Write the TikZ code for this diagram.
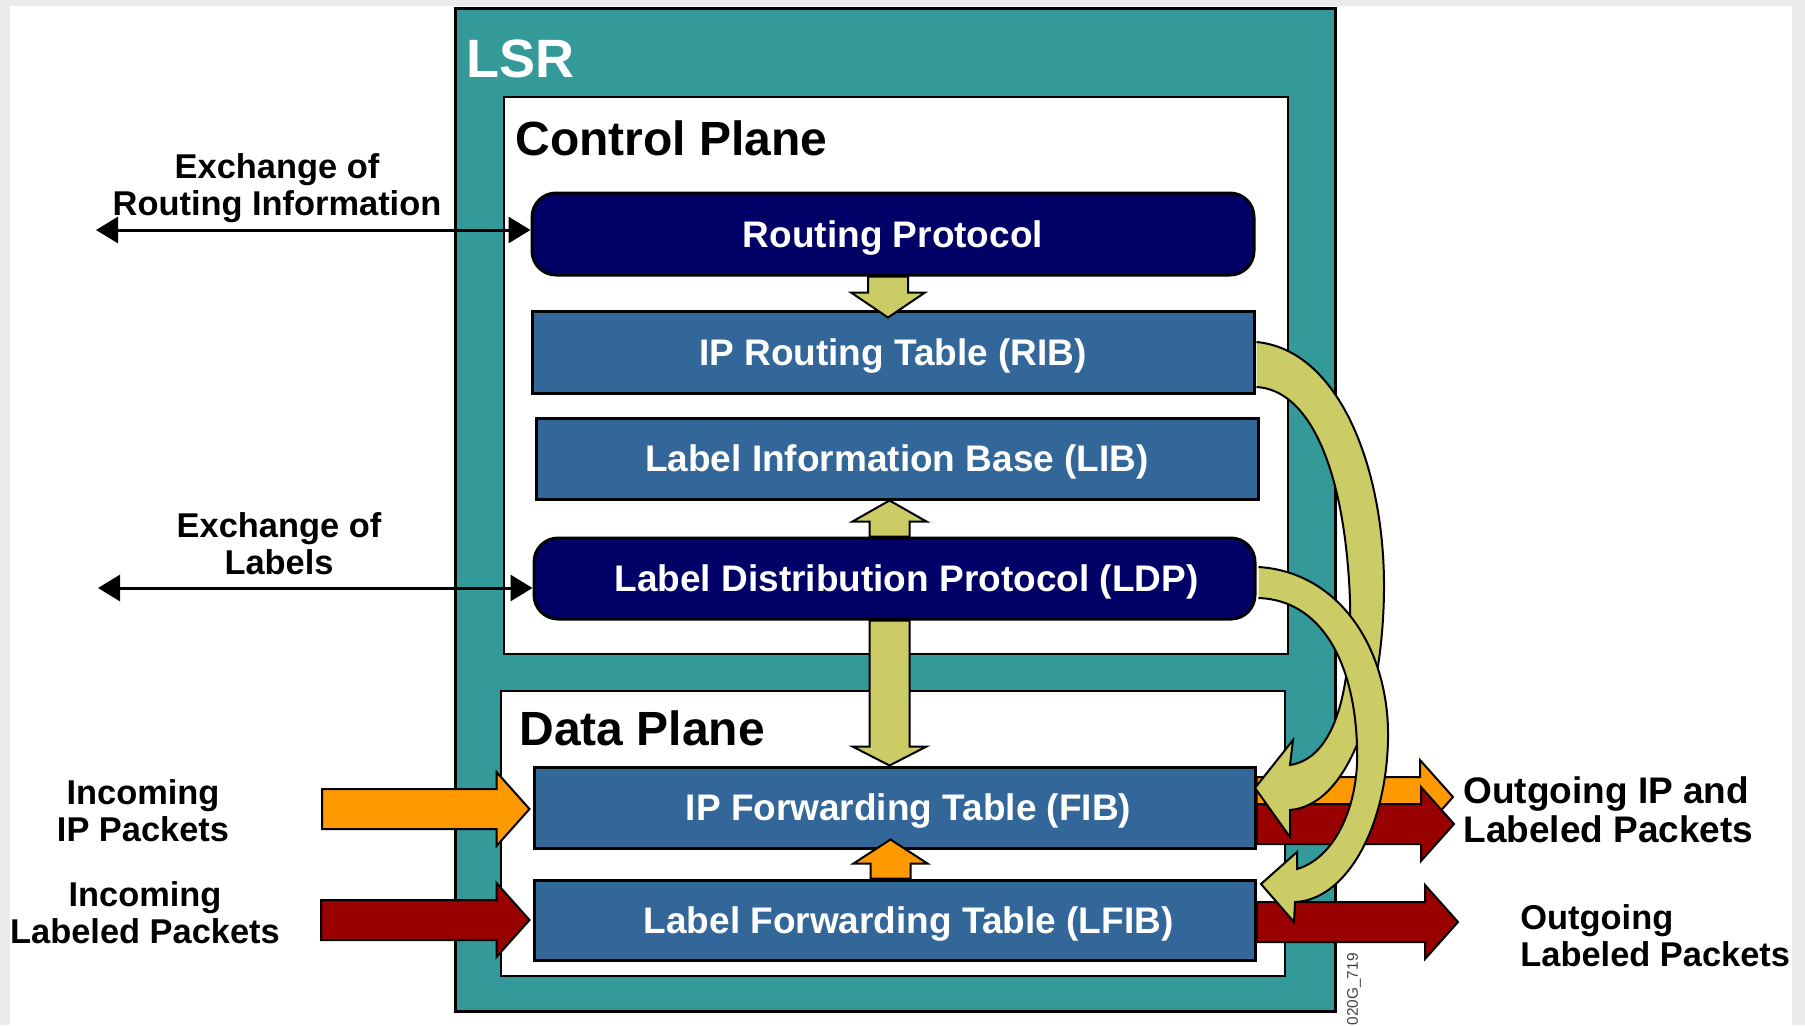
\documentclass[tikz,border=0pt]{standalone}
\usepackage{fontspec}
\setmainfont{Liberation Sans}
\usetikzlibrary{arrows.meta,calc}
\definecolor{lsrteal}{HTML}{339999}
\definecolor{boxblue}{HTML}{336699}
\definecolor{navyc}{HTML}{000066}
\definecolor{yelc}{HTML}{CCCC66}
\definecolor{orangec}{HTML}{FF9900}
\definecolor{redc}{HTML}{990000}
\definecolor{bggray}{HTML}{EBEBEB}
% vertical block arrow: #1 start, #2 tip (only y used), #3 signed head length, #4 colour
\newcommand\vblock[4]{\draw[blockline,fill=#4] let \p1=#1, \p2=#2 in
  (\x1-10pt,\y1) -- (\x1-10pt,\y2#3) -- (\x1-18.5pt,\y2#3) -- (\x1,\y2) --
  (\x1+18.5pt,\y2#3) -- (\x1+10pt,\y2#3) -- (\x1+10pt,\y1) -- cycle;}
% horizontal block arrow: #1 start (x used), #2 tip, #3 colour
\newcommand\hblock[3]{\draw[blockline,fill=#3] let \p1=#1, \p2=#2 in
  (\x1,\y2+10pt) -- (\x2-16.5pt,\y2+10pt) -- (\x2-16.5pt,\y2+18.5pt) -- (\x2,\y2) --
  (\x2-16.5pt,\y2-18.5pt) -- (\x2-16.5pt,\y2-10pt) -- (\x1,\y2-10pt) -- cycle;}
\begin{document}
\begin{tikzpicture}[x=0.5pt,y=-0.5pt,
  blockline/.style={draw=black,line width=1pt,line join=miter},
  lsrbox/.style={draw=black,line width=1.5pt,fill=lsrteal,inner sep=0},
  planebox/.style={draw=black,line width=1.1pt,fill=white,inner sep=0},
  tabbox/.style={draw=black,line width=1.5pt,fill=boxblue,text=white,inner sep=0,
    text depth=0pt,font=\bfseries\fontsize{18.5}{20}\selectfont},
  protbox/.style={tabbox,fill=navyc,rounded corners=12pt},
  title/.style={inner sep=0,anchor=base west,font=\bfseries\fontsize{24}{26}\selectfont},
  sidelabel/.style={inner sep=0,align=center,font=\bfseries\fontsize{17.2}{18.5}\selectfont},
  xarrow/.style={draw=black,line width=1.5pt,
    {Triangle[length=11pt,width=13pt]}-{Triangle[length=11pt,width=13pt]}}]
\useasboundingbox (0,0) rectangle (1805,1025);
\fill[bggray] (0,0) rectangle (1805,1025);
\fill[white] (10,6) rectangle (1792,1025);

% frames
\node[lsrbox,minimum width=440pt,minimum height=501.5pt] (lsr) at (895,509.5) {};
\node[planebox,minimum width=392pt,minimum height=278.5pt] (cp) at (896,375.5) {};
\node[planebox,minimum width=392pt,minimum height=142.5pt] (dp) at (893,833.5) {};
\node[title,text=white,font=\bfseries\fontsize{27}{30}\selectfont] (lsrt) at (466,77) {LSR};
\node[title] (cpt) at (515,155) {Control Plane};
\node[title] (dpt) at (519,745) {Data Plane};

% boxes
\node[protbox,minimum width=361pt,minimum height=41pt] (rp) at (893,234) {Routing Protocol};
\node[tabbox,minimum width=361pt,minimum height=41pt] (rib) at (893,352) {IP Routing Table (RIB)};
\node[tabbox,minimum width=361pt,minimum height=40.5pt] (lib) at (897,458.5) {Label Information Base (LIB)};
\node[protbox,minimum width=360.5pt,minimum height=40.5pt] (ldp) at (894.5,578.5) {\hspace*{12pt}Label Distribution Protocol (LDP)};
\node[tabbox,minimum width=360.5pt,minimum height=40.5pt] (fib) at (894.5,807.5) {\hspace*{14pt}IP Forwarding Table (FIB)};
\node[tabbox,minimum width=360.5pt,minimum height=40pt] (lfib) at (894.5,920) {\hspace*{14pt}Label Forwarding Table (LFIB)};

% internal block arrows
\vblock{($(rp.south)+(-5,0)$)}{($(rib.north)+(0,8)$)}{+12.5pt}{yelc}
\vblock{($(ldp.north)+(-5,0)$)}{(lib.south)}{-10.5pt}{yelc}
\vblock{($(ldp.south)+(-5,0)$)}{(fib.north)}{+9.5pt}{yelc}
\vblock{($(lfib.north)+(-4,0)$)}{($(fib.south)+(0,-10)$)}{-12pt}{orangec}

% exchange arrows
\coordinate (xri) at (96,230);
\coordinate (xlb) at (98,588);
\draw[xarrow] (xri) -- (xri -| rp.west);
\draw[xarrow] (xlb) -- (xlb -| ldp.west);
\node[sidelabel] (lri) at (277,188) {Exchange of\\Routing Information};
\node[sidelabel] (llb) at (279,544) {Exchange of\\Labels};

% incoming
\coordinate (inip) at (322,809);
\coordinate (inlab) at (321,920);
\hblock{(inip)}{($(inip -| fib.west)+(-3,0)$)}{orangec}
\hblock{(inlab)}{($(inlab -| lfib.west)+(-3,0)$)}{redc}
\node[sidelabel] (linip) at (143,811) {Incoming\\IP Packets};
\node[sidelabel] (linlab) at (145,913) {Incoming\\Labeled Packets};

% outgoing
\coordinate (outip) at (1453,797);
\coordinate (outl1) at (1454,824);
\coordinate (outl2) at (1458,922);
\hblock{(outip -| fib.east)}{(outip)}{orangec}
\hblock{(outl1 -| fib.east)}{(outl1)}{redc}
\hblock{(outl2 -| lfib.east)}{(outl2)}{redc}
\node[sidelabel,align=left,anchor=west,font=\bfseries\fontsize{18.5}{19.5}\selectfont] (lout1) at (1463,810) {Outgoing IP and\\Labeled Packets};
\node[sidelabel,align=left,anchor=west] (lout2) at (1520,936) {Outgoing\\Labeled Packets};

% curved arrows
\draw[blockline,fill=yelc] ($(rib.east)+(1,-10)$) .. controls (1340,350) and (1385,470) .. (1384,590)
  .. controls (1383,700) and (1350,805) .. (1290,810) -- (1290,837) -- (1255,788) -- (1293,740) -- (1290,765)
  .. controls (1335,758) and (1352,690) .. (1350,600)
  .. controls (1345,470) and (1310,390) .. ($(rib.east)+(1,35)$);
\draw[blockline,fill=yelc] ($(ldp.east)+(2,-11.5)$) .. controls (1340,572) and (1390,650) .. (1388,740)
  .. controls (1386,830) and (1345,900) .. (1295,902) -- (1294,922) -- (1261,884) -- (1297,852) -- (1297,869)
  .. controls (1335,858) and (1360,805) .. (1357,745)
  .. controls (1354,660) and (1320,600) .. ($(ldp.east)+(2,19.5)$);

\node[rotate=90,anchor=east,inner sep=0,text=black!75,font=\fontsize{7.7}{8}\selectfont] (code) at (1354,953) {020G\_719};
\end{tikzpicture}
\end{document}
